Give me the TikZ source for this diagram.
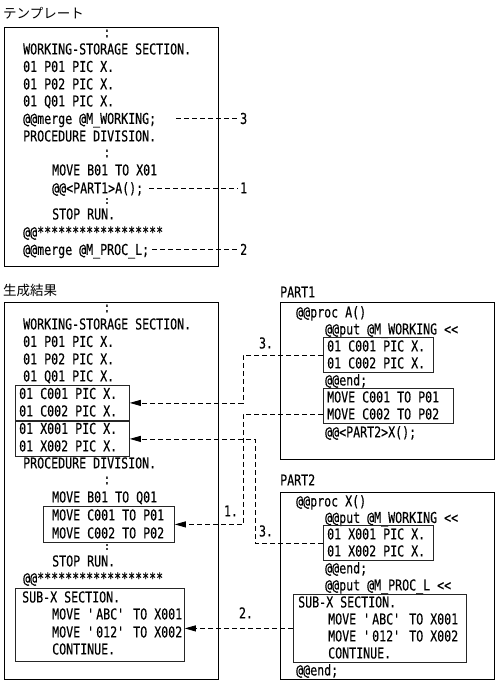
\documentclass[tikz,border=0pt]{standalone}
\usepackage{fontspec}
\setmonofont[FakeStretch=0.775,FakeBold=0.3]{DejaVu Sans Mono}
\newfontfamily\jpfont{Noto Sans CJK JP}
\usetikzlibrary{arrows.meta}
\tikzset{
 code/.style={font=\ttfamily\fontsize{15pt}{17pt}\selectfont, inner sep=0pt, anchor=west, text height=10.9pt, text depth=0pt},
 colon/.style={code, anchor=center},
 smallcolon/.style={font=\ttfamily\fontsize{11pt}{12pt}\selectfont, inner sep=0pt, anchor=center},
 outer/.style={draw=black, line width=0.8pt, anchor=north west, inner sep=0pt},
 inner/.style={draw=black!85, line width=0.8pt, anchor=north west, inner sep=0pt},
 conn/.style={draw, line width=0.8pt, dash pattern=on 5pt off 3pt},
 arr/.style={conn, -{Triangle[length=11pt,width=6pt]}},
 jp/.style={font=\jpfont\fontsize{13.5pt}{16pt}\selectfont, inner sep=0pt, anchor=west},
}
\begin{document}
\begin{tikzpicture}[x=1pt,y=-1pt]
\useasboundingbox (0,0) rectangle (497,684);
% ---------------- Template ----------------
\node[jp] (ttl) at (3,13) {テンプレート};
\node[outer, minimum width=214pt, minimum height=239pt] (tbox) at (4,27) {};
\node[colon] (tc1) at (107,32) {:};
\node[code] (tl1) at (23,49) {WORKING-STORAGE SECTION.};
\node[code] (tl2) at (23,66.5) {01 P01 PIC X.};
\node[code] (tl3) at (23,84) {01 P02 PIC X.};
\node[code] (tl4) at (23,101) {01 Q01 PIC X.};
\node[code] (tl5) at (23,118.5) {@@merge @M\_WORKING;};
\node[code] (tl6) at (23,136) {PROCEDURE DIVISION.};
\node[colon] (tc2) at (107,152) {:};
\node[code] (tl7) at (52,170) {MOVE B01 TO X01};
\node[code] (tl8) at (52,188) {@@<PART1>A();};
\node[smallcolon] (tc3) at (107,201) {:};
\node[code] (tl9) at (52,214) {STOP RUN.};
\node[code] (tl10) at (23,232) {@@******************};
\node[code] (tl11) at (23,249.5) {@@merge @M\_PROC\_L;};
% template markers
\node[code] (m3) at (240,118.5) {3};
\coordinate (m3a) at (176,118.5);
\draw[conn] (m3a) -- ([xshift=-2pt]m3.west);
\node[code] (m1) at (240,188) {1};
\coordinate (m1a) at (149,188);
\draw[conn] (m1a) -- ([xshift=-2pt]m1.west);
\node[code] (m2) at (240,249.5) {2};
\coordinate (m2a) at (152,249.5);
\draw[conn] (m2a) -- ([xshift=-2pt]m2.west);
% ---------------- Result ----------------
\node[jp] (rttl) at (3,290) {生成結果};
\node[outer, minimum width=214pt, minimum height=377pt] (rbox) at (4,302) {};
\node[colon] (rc1) at (107,307) {:};
\node[code] (rl1) at (23,324) {WORKING-STORAGE SECTION.};
\node[code] (rl2) at (23,341.5) {01 P01 PIC X.};
\node[code] (rl3) at (23,359) {01 P02 PIC X.};
\node[code] (rl4) at (23,376) {01 Q01 PIC X.};
\node[inner, minimum width=114pt, minimum height=35pt] (rc) at (15,385) {};
\node[code] (rl5) at (19,393.5) {01 C001 PIC X.};
\node[code] (rl6) at (19,411) {01 C002 PIC X.};
\node[inner, minimum width=114pt, minimum height=35pt] (rx) at (15,421) {};
\node[code] (rl7) at (19,428.5) {01 X001 PIC X.};
\node[code] (rl8) at (19,446) {01 X002 PIC X.};
\node[code] (rl9) at (23,463) {PROCEDURE DIVISION.};
\node[colon] (rc2) at (107,479) {:};
\node[code] (rl10) at (52,497) {MOVE B01 TO Q01};
\node[inner, minimum width=131pt, minimum height=36pt] (rm) at (43,506) {};
\node[code] (rl11) at (52,515) {MOVE C001 TO P01};
\node[code] (rl12) at (52,533) {MOVE C002 TO P02};
\node[smallcolon] (rc3) at (107,547) {:};
\node[code] (rl13) at (52,561) {STOP RUN.};
\node[code] (rl14) at (23,578) {@@******************};
\node[inner, minimum width=169pt, minimum height=73pt] (rs) at (15,588) {};
\node[code] (rl15) at (22,597) {SUB-X SECTION.};
\node[code] (rl16) at (52,614) {MOVE \textquotesingle ABC\textquotesingle{} TO X001};
\node[code] (rl17) at (52,632) {MOVE \textquotesingle 012\textquotesingle{} TO X002};
\node[code] (rl18) at (52,649) {CONTINUE.};
% ---------------- PART1 ----------------
\node[code] (p1t) at (280,292) {PART1};
\node[outer, minimum width=214pt, minimum height=157pt] (p1box) at (280,302) {};
\node[code] (p1l1) at (296,312) {@@proc A()};
\node[code] (p1l2) at (325,329) {@@put @M\_WORKING <<};
\node[inner, minimum width=110pt, minimum height=35pt] (p1c) at (323,337) {};
\node[code] (p1l3) at (327,346) {01 C001 PIC X.};
\node[code] (p1l4) at (327,363) {01 C002 PIC X.};
\node[code] (p1l5) at (325,380) {@@end;};
\node[inner, minimum width=130pt, minimum height=35pt] (p1m) at (323,388) {};
\node[code] (p1l6) at (327,397) {MOVE C001 TO P01};
\node[code] (p1l7) at (327,414) {MOVE C002 TO P02};
\node[code] (p1l8) at (325,432) {@@<PART2>X();};
% ---------------- PART2 ----------------
\node[code] (p2t) at (280,480) {PART2};
\node[outer, minimum width=214pt, minimum height=187pt] (p2box) at (280,492) {};
\node[code] (p2l1) at (296,501) {@@proc X()};
\node[code] (p2l2) at (325,517.5) {@@put @M\_WORKING <<};
\node[inner, minimum width=110pt, minimum height=35pt] (p2x) at (323,525) {};
\node[code] (p2l3) at (327,534) {01 X001 PIC X.};
\node[code] (p2l4) at (327,551) {01 X002 PIC X.};
\node[code] (p2l5) at (325,568) {@@end;};
\node[code] (p2l6) at (325,585) {@@put @M\_PROC\_L <<};
\node[inner, minimum width=173pt, minimum height=68pt] (p2s) at (293,594) {};
\node[code] (p2l7) at (298,602) {SUB-X SECTION.};
\node[code] (p2l8) at (328,619) {MOVE \textquotesingle ABC\textquotesingle{} TO X001};
\node[code] (p2l9) at (328,636) {MOVE \textquotesingle 012\textquotesingle{} TO X002};
\node[code] (p2l10) at (328,653) {CONTINUE.};
\node[code] (p2l11) at (296,670) {@@end;};
% ---------------- connectors ----------------
\draw[arr] (p1c.west) -- ++(-80,0) |- (rc.east);
\draw[arr] ([yshift=-8pt]p1m.west) -- ++(-80,0) |- (rm.east);
\draw[arr] (p2x.west) -- ++(-68,0) |- (rx.east);
\draw[arr] (p2s.west) -- (rs.east |- p2s.west);
\node[colon] (lb3a) at (266,343) {3.};
\node[colon] (lb1) at (231,511) {1.};
\node[colon] (lb3b) at (266,531) {3.};
\node[colon] (lb2) at (246,613) {2.};
\end{tikzpicture}
\end{document}
